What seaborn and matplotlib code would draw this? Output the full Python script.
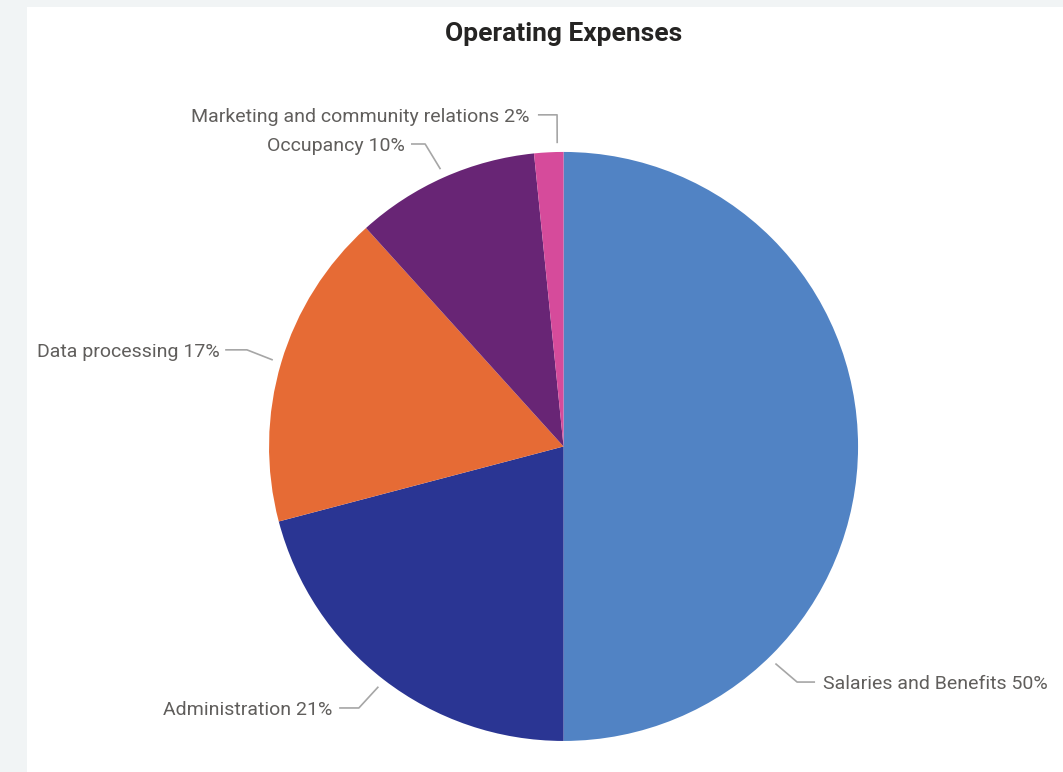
import matplotlib
matplotlib.use("Agg")
import matplotlib.pyplot as plt
from matplotlib.patches import Rectangle
from matplotlib import font_manager
import numpy as np
import seaborn as sns

# Operating expense breakdown (percent of total)
categories = [
    "Salaries and Benefits",
    "Administration",
    "Data processing",
    "Occupancy",
    "Marketing and community relations",
]
shares = [50.0, 20.9, 17.4, 10.1, 1.6]
colors = ["#5183C4", "#2A3593", "#E66B35", "#682575", "#D64B9B"]

# Leader-line layout per slice: anchor angle override (deg, None = slice middle),
# elbow point, end of horizontal run, text x, alignment
label_layout = [
    (-45.7, (0.793, -0.800), 0.854, 0.881, "left"),
    (None, (-0.695, -0.888), -0.762, -0.786, "right"),
    (None, (-1.075, 0.328), -1.149, -1.169, "right"),
    (None, (-0.470, 1.027), -0.518, -0.538, "right"),
    (91.2, (-0.022, 1.126), -0.087, -0.114, "right"),
]

sns.set_theme(style="white")
available = {f.name for f in font_manager.fontManager.ttflist}
label_family = [f for f in ["Liberation Sans Narrow", "Roboto", "DejaVu Sans"] if f in available]
plt.rcParams["font.family"] = label_family

fig = plt.figure(figsize=(10.63, 7.72), dpi=100, facecolor="#F1F4F5")
# white card behind the chart
fig.patches.append(Rectangle((27 / 1063, 0), 1, 1 - 7 / 772, transform=fig.transFigure,
                             facecolor="white", edgecolor="none", zorder=-10))

ax = fig.add_axes([0.2531, 0.0402, 0.5541, 0.7630])
ax.set_zorder(1)
ax.patch.set_alpha(0)
wedges, _ = ax.pie(shares, colors=colors, startangle=90, counterclock=False,
                   radius=1, wedgeprops=dict(linewidth=0))
ax.set_xlim(-1, 1)
ax.set_ylim(-1, 1)
ax.set_aspect("equal")
ax.axis("off")

line_color = "#A6A6A6"
text_color = "#605E5C"
for wedge, cat, share, (ang, elbow, end_x, text_x, ha) in zip(wedges, categories, shares, label_layout):
    if ang is None:
        ang = (wedge.theta1 + wedge.theta2) / 2
    a = np.deg2rad(ang)
    start = (1.03 * np.cos(a), 1.03 * np.sin(a))
    ax.plot([start[0], elbow[0], end_x], [start[1], elbow[1], elbow[1]],
            color=line_color, lw=1.2, clip_on=False, solid_capstyle="butt")
    ax.text(text_x, elbow[1] - 0.006, f"{cat} {share:.0f}%", ha=ha, va="center",
            fontsize=14, color=text_color, clip_on=False)

fig.text(563.5 / 1063, 1 - 34 / 772, "Operating Expenses", ha="center", va="center",
         fontsize=19, fontweight="bold", color="#252423", zorder=2,
         family=["Roboto", "DejaVu Sans"])

fig.savefig("out.png", dpi=100, facecolor=fig.get_facecolor())
